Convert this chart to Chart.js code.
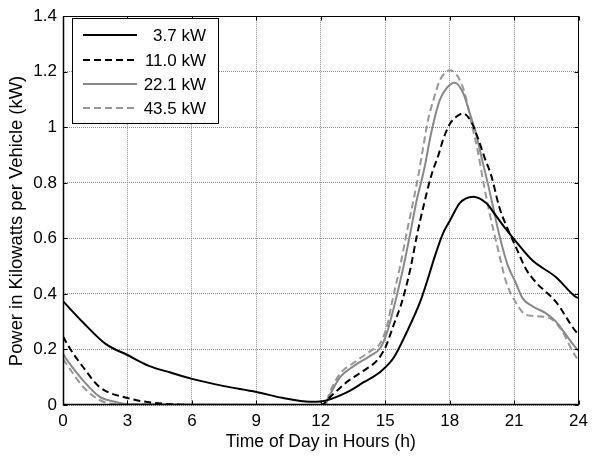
<!DOCTYPE html>
<html>
<head>
<meta charset="utf-8">
<script src="https://cdn.jsdelivr.net/npm/chart.js@4/dist/chart.umd.min.js"></script>
<style>
html,body{margin:0;padding:0;background:#fff;}
#wrap{width:594px;height:456px;position:relative;}
</style>
</head>
<body>
<div id="wrap"><canvas id="c" width="594" height="456"></canvas></div>
<script>
// ---- data ----
const seriesLabels = ["3.7 kW", "11.0 kW", "22.1 kW", "43.5 kW"];

const hours37 = [0, 0.9, 2, 3, 4, 5, 6, 7.5, 9, 10.2, 11.5, 12, 13.25, 14, 14.75, 15.4, 16, 16.63, 16.94, 17.32, 17.7, 18.04, 18.47, 19.1, 19.7, 20.17, 20.63, 21.06, 21.86, 22.94, 23.86, 24];
const power37 = [0.374, 0.300, 0.219, 0.180, 0.141, 0.117, 0.094, 0.068, 0.047, 0.026, 0.012, 0.013, 0.047, 0.082, 0.118, 0.171, 0.262, 0.372, 0.443, 0.538, 0.620, 0.668, 0.727, 0.750, 0.727, 0.680, 0.632, 0.591, 0.520, 0.461, 0.390, 0.385];

const hours110 = [0, 0.3, 0.95, 1.7, 3, 4, 5, 6, 12, 12.45, 13.25, 14, 14.6, 15, 15.4, 15.78, 16.17, 16.47, 16.78, 17.17, 17.47, 17.7, 18.0, 18.24, 18.63, 19.0, 19.32, 19.63, 19.94, 20.32, 20.78, 21.06, 21.55, 22.0, 22.94, 23.86, 24];
const power110 = [0.247, 0.206, 0.135, 0.065, 0.025, 0.010, 0.003, 0, 0, 0.030, 0.085, 0.124, 0.159, 0.206, 0.290, 0.372, 0.490, 0.609, 0.715, 0.833, 0.898, 0.957, 1.011, 1.034, 1.050, 1.020, 0.960, 0.890, 0.825, 0.710, 0.620, 0.573, 0.490, 0.443, 0.372, 0.266, 0.255];

const hours221 = [0, 0.32, 0.94, 1.7, 2.5, 3, 12, 12.17, 12.46, 12.9, 13.55, 14.3, 14.78, 15.1, 15.47, 15.86, 16.17, 16.47, 16.7, 16.86, 17.08, 17.32, 17.55, 17.85, 18.24, 18.63, 18.93, 19.2, 19.55, 19.8, 20.0, 20.32, 20.71, 21.06, 21.4, 21.86, 22.47, 22.94, 23.4, 23.86, 24];
const power221 = [0.183, 0.148, 0.088, 0.030, 0.010, 0.003, 0, 0, 0.042, 0.100, 0.141, 0.177, 0.206, 0.265, 0.372, 0.502, 0.620, 0.739, 0.810, 0.866, 0.957, 1.040, 1.100, 1.140, 1.160, 1.123, 1.052, 0.985, 0.870, 0.790, 0.720, 0.609, 0.502, 0.443, 0.384, 0.355, 0.331, 0.301, 0.254, 0.207, 0.195];

const hours435 = [0, 0.32, 0.94, 1.7, 2.5, 12, 12.17, 12.46, 12.9, 13.55, 14.3, 14.78, 15.1, 15.32, 15.7, 16.0, 16.32, 16.55, 16.78, 17.0, 17.25, 17.55, 18.0, 18.4, 18.7, 19.0, 19.32, 19.6, 19.86, 20.25, 20.63, 21.06, 21.55, 22.17, 22.78, 23.24, 23.63, 23.94, 24];
const power435 = [0.166, 0.130, 0.065, 0.018, 0.003, 0, 0, 0.053, 0.113, 0.153, 0.194, 0.224, 0.290, 0.372, 0.502, 0.620, 0.739, 0.830, 0.934, 1.028, 1.100, 1.170, 1.205, 1.180, 1.123, 1.020, 0.910, 0.790, 0.690, 0.561, 0.443, 0.372, 0.325, 0.319, 0.307, 0.266, 0.207, 0.166, 0.160];

const xTicks = [0, 3, 6, 9, 12, 15, 18, 21, 24];
const yTicks = [0, 0.2, 0.4, 0.6, 0.8, 1, 1.2, 1.4];
const xTitle = "Time of Day in Hours (h)";
const yTitle = "Power in Kilowatts per Vehicle (kW)";

// ---- build ----
const FONT = "'Liberation Sans', Arial, Helvetica, sans-serif";
function pts(hs, vs){ return hs.map((h,i)=>({x:h, y:vs[i]})); }
const styles = [
  {color:'#000000', dash:[]},
  {color:'#000000', dash:[7,4]},
  {color:'#888888', dash:[]},
  {color:'#979797', dash:[7,4]}
];
const dataArr = [pts(hours37,power37), pts(hours110,power110), pts(hours221,power221), pts(hours435,power435)];
const datasets = dataArr.map((d,i)=>({
  label: seriesLabels[i],
  data: d,
  borderColor: styles[i].color,
  borderDash: styles[i].dash,
  borderWidth: 2,
  pointRadius: 0,
  fill: false,
  cubicInterpolationMode: 'monotone'
}));

const boxPlugin = {
  id: 'matlabBox',
  afterDraw(chart){
    const ctx = chart.ctx, a = chart.chartArea;
    const xs = chart.scales.x, ys = chart.scales.y;
    ctx.save();
    ctx.strokeStyle = '#000'; ctx.lineWidth = 1; ctx.setLineDash([]);
    const L = Math.round(a.left)+0.5, R = Math.round(a.right)-0.5, T = Math.round(a.top)+0.5, B = Math.round(a.bottom)-0.5;
    ctx.beginPath();
    xTicks.forEach(v=>{
      const px = Math.round(xs.getPixelForValue(v))+0.5;
      ctx.moveTo(px,B); ctx.lineTo(px,B-4);
      ctx.moveTo(px,T); ctx.lineTo(px,T+4);
    });
    yTicks.forEach(v=>{
      const py = Math.round(ys.getPixelForValue(v))+0.5;
      ctx.moveTo(L,py); ctx.lineTo(L+4,py);
      ctx.moveTo(R,py); ctx.lineTo(R-4,py);
    });
    ctx.stroke();
    ctx.strokeRect(L, T, R-L, B-T);
    ctx.lineWidth = 1.5;
    ctx.beginPath(); ctx.moveTo(L,T); ctx.lineTo(L,B); ctx.lineTo(R,B); ctx.stroke();

    // y-axis title (rotated real text)
    ctx.save();
    ctx.translate(16.5, 221);
    ctx.rotate(-Math.PI/2);
    ctx.fillStyle = '#000'; ctx.font = '18.4px ' + FONT;
    ctx.textAlign = 'center'; ctx.textBaseline = 'middle';
    ctx.fillText(yTitle, 0, 0);
    ctx.restore();

    // legend
    const bx = 72.5, by = 18.5, bw = 146, bh = 105;
    ctx.fillStyle = '#fff'; ctx.fillRect(bx,by,bw,bh);
    ctx.lineWidth = 1; ctx.strokeStyle = '#000'; ctx.strokeRect(bx,by,bw,bh);
    const rows = [35, 60, 84, 108];
    chart.data.datasets.forEach((ds,i)=>{
      const y = rows[i];
      ctx.strokeStyle = ds.borderColor; ctx.lineWidth = 2; ctx.setLineDash(ds.borderDash || []);
      ctx.beginPath(); ctx.moveTo(83,y); ctx.lineTo(137,y); ctx.stroke();
      ctx.setLineDash([]);
      ctx.fillStyle = '#000'; ctx.font = '17px ' + FONT;
      ctx.textAlign = 'right'; ctx.textBaseline = 'middle';
      ctx.fillText(ds.label, 206, y+1);
    });
    ctx.restore();
  }
};

new Chart(document.getElementById('c'), {
  type: 'line',
  data: { datasets },
  options: {
    responsive: false,
    animation: false,
    layout: { padding: { top: 9, right: 11, left: 0, bottom: 0 } },
    plugins: { legend: { display: false }, tooltip: { enabled: false } },
    scales: {
      x: {
        type: 'linear', min: 0, max: 24,
        afterBuildTicks: s => { s.ticks = xTicks.map(v=>({value:v})); },
        afterFit: s => { s.height = 51; },
        ticks: { color: '#000', font: { family: FONT, size: 17 }, padding: 6, maxRotation: 0, autoSkip: false },
        grid: { color: '#8a8a8a', lineWidth: 1, drawTicks: false },
        border: { display: false, dash: [1,1] },
        title: { display: true, text: xTitle, color: '#000', font: { family: FONT, size: 17.5 }, padding: { top: 0, bottom: 3 } }
      },
      y: {
        type: 'linear', min: 0, max: 1.4,
        afterBuildTicks: s => { s.ticks = yTicks.map(v=>({value:v})); },
        afterFit: s => { s.width = 63; },
        ticks: { color: '#000', font: { family: FONT, size: 17 }, padding: 6, autoSkip: false,
                 callback: v => String(Math.round(v*10)/10) },
        grid: { color: '#8a8a8a', lineWidth: 1, drawTicks: false },
        border: { display: false, dash: [1,1] },
        title: { display: false }
      }
    }
  },
  plugins: [boxPlugin]
});
</script>
</body>
</html>
